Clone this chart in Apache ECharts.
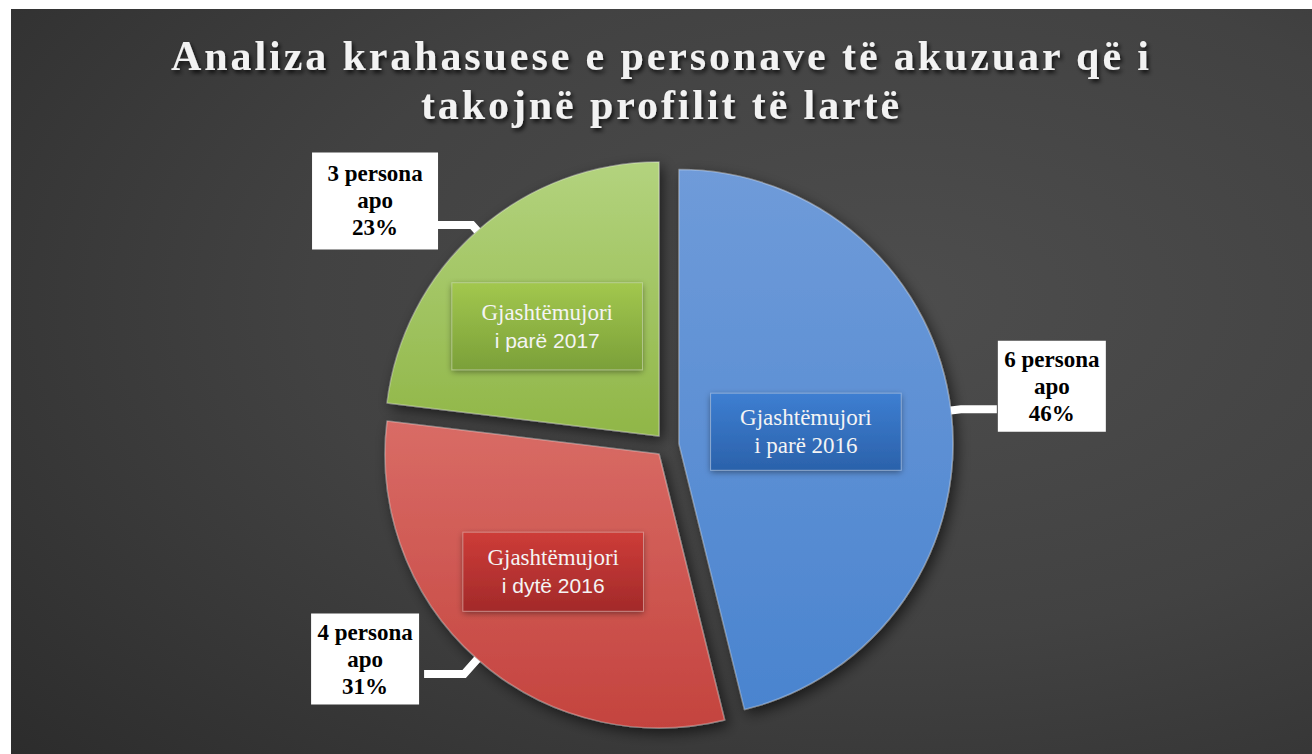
<!DOCTYPE html>
<html>
<head>
<meta charset="utf-8">
<title>Analiza krahasuese e personave të akuzuar</title>
<script src="https://cdn.jsdelivr.net/npm/echarts@6/dist/echarts.min.js"></script>
<style>
  html, body { margin: 0; padding: 0; background: #fff; }
  #chart { position: absolute; left: 11px; top: 9px; width: 1301px; height: 745px; }
  /* the title is spaced out like in the slide */
  #chart text[style*="Times New Roman"] { letter-spacing: 2.9px; }
</style>
</head>
<body>
<div id="chart"></div>
<script>
// data
var categories = ['Gjashtëmujori i parë 2016', 'Gjashtëmujori i dytë 2016', 'Gjashtëmujori i parë 2017'];
var persons = [6, 4, 3];
var titleLines = ['Analiza krahasuese e personave të akuzuar që i', 'takojnë profilit të lartë'];

// looks
var sliceColors = [['#6f9bd9', '#4a84cf'], ['#d96c66', '#c4433e'], ['#b3d37e', '#90b647']];
var boxColors = [['#3d7ed1', '#2b62ab'], ['#cd3c38', '#a32a2a'], ['#a2c74e', '#7ba039']];
var secondLineSans = [false, true, true];
var innerPad = [[10, 29], [11, 24], [15, 29]];
var innerShift = [[-12, 5], [-13, 13], [-19, -5]];
var calloutPad = [[5, 6], [5, 6], [8, 15]];
var calloutLine = [[10, 36], [20, 40], [8, 35]];
var calloutShift = [[-4, -23], [0, -15], [6, -24]];

function grad(c) {
  return {
    type: 'linear', x: 0, y: 0, x2: 0, y2: 1,
    colorStops: [{ offset: 0, color: c[0] }, { offset: 1, color: c[1] }]
  };
}

var chart = echarts.init(document.getElementById('chart'), null, { renderer: 'svg' });

var center = [656, 436];
var radius = 274;

chart.setOption({
  animation: false,
  backgroundColor: {
    type: 'radial', x: 0.68, y: 0.39, r: 1,
    colorStops: [
      { offset: 0, color: '#4d4d4d' },
      { offset: 0.45, color: '#424242' },
      { offset: 1, color: '#282828' }
    ]
  },
  title: {
    text: titleLines.join('\n'),
    left: 'center',
    top: 17,
    textStyle: {
      color: '#f2f2f2',
      fontFamily: "'Liberation Serif', 'Times New Roman', serif",
      fontWeight: 'bold',
      fontSize: 42,
      lineHeight: 49,
      textShadowColor: 'rgba(0,0,0,0.75)',
      textShadowBlur: 4,
      textShadowOffsetX: 2,
      textShadowOffsetY: 3
    }
  },
  series: [
    {
      type: 'pie',
      z: 2,
      center: center,
      radius: radius,
      startAngle: 90,
      clockwise: true,
      selectedMode: 'multiple',
      selectedOffset: 12,
      avoidLabelOverlap: false,
      emphasis: { disabled: true },
      itemStyle: {
        borderColor: 'rgba(255,255,255,0.3)',
        borderWidth: 1.5,
        shadowBlur: 14,
        shadowColor: 'rgba(0,0,0,0.6)',
        shadowOffsetX: 4,
        shadowOffsetY: 5
      },
      label: {
        show: true,
        position: 'inside',
        formatter: function (p) {
          var k = p.name.indexOf(' ');
          var st = secondLineSans[p.dataIndex] ? 'c' : 'b';
          return '{a|' + p.name.slice(0, k) + '}\n{' + st + '|' + p.name.slice(k + 1) + '}';
        },
        shadowColor: 'rgba(0,0,0,0.45)',
        shadowBlur: 6,
        shadowOffsetY: 2,
        borderColor: 'rgba(255,255,255,0.25)',
        borderWidth: 1,
        rich: {
          a: { color: '#f4f4f4', fontFamily: 'Liberation Serif', fontSize: 23, lineHeight: 28 },
          b: { color: '#f4f4f4', fontFamily: 'Liberation Serif', fontSize: 23, lineHeight: 28 },
          c: { color: '#f4f4f4', fontFamily: 'Liberation Sans', fontSize: 21, lineHeight: 28 }
        }
      },
      labelLine: { show: false },
      labelLayout: function (p) {
        return { dx: innerShift[p.dataIndex][0], dy: innerShift[p.dataIndex][1] };
      },
      data: categories.map(function (name, i) {
        return {
          name: name,
          value: persons[i],
          selected: true,
          itemStyle: { color: grad(sliceColors[i]) },
          label: { backgroundColor: grad(boxColors[i]), padding: innerPad[i] }
        };
      })
    },
    {
      type: 'pie',
      z: 3,
      silent: true,
      center: center,
      radius: radius,
      startAngle: 90,
      clockwise: true,
      selectedMode: 'multiple',
      selectedOffset: 12,
      avoidLabelOverlap: false,
      emphasis: { disabled: true },
      itemStyle: { color: 'rgba(0,0,0,0)' },
      label: {
        show: true,
        position: 'outside',
        distanceToLabelLine: 5,
        backgroundColor: '#ffffff',
        formatter: function (p) {
          return '{t|' + p.value + ' persona}\n{t|apo}\n{t|' + Math.round(p.percent) + '%}';
        },
        rich: {
          t: {
            width: 96,
            align: 'center',
            color: '#000',
            fontFamily: 'Liberation Serif',
            fontWeight: 'bold',
            fontSize: 23,
            lineHeight: 27
          }
        }
      },
      labelLine: { show: true, smooth: false, lineStyle: { color: '#ffffff', width: 8 } },
      labelLayout: function (p) {
        return { dx: calloutShift[p.dataIndex][0], dy: calloutShift[p.dataIndex][1] };
      },
      data: categories.map(function (name, i) {
        return {
          name: name,
          value: persons[i],
          selected: true,
          label: { padding: calloutPad[i] },
          labelLine: { length: calloutLine[i][0], length2: calloutLine[i][1] }
        };
      })
    }
  ]
});
</script>
</body>
</html>
